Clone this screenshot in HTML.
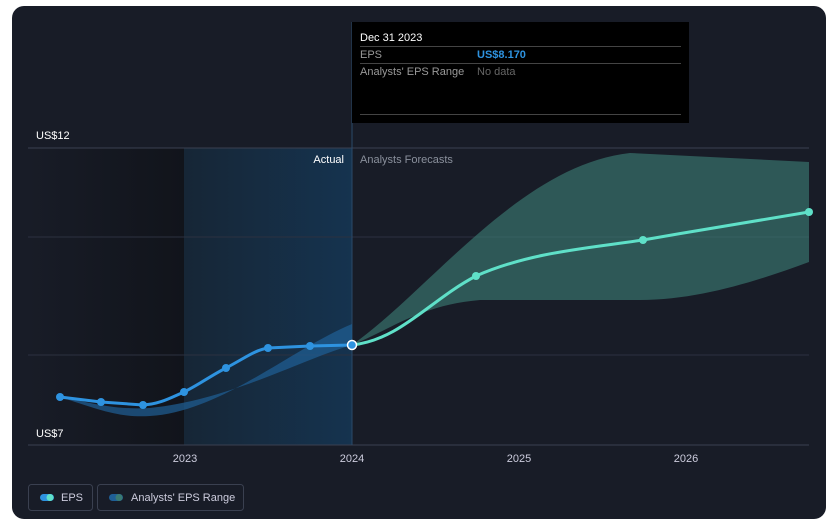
<!DOCTYPE html>
<html><head><style>
body{margin:0;background:#fff;}
svg text{font-family:"Liberation Sans",sans-serif;}
</style></head><body>
<svg width="834" height="525" xmlns="http://www.w3.org/2000/svg">
<defs>
<linearGradient id="dk" x1="0" x2="1"><stop offset="0" stop-color="#181c27"/><stop offset="1" stop-color="#11141b"/></linearGradient>
<linearGradient id="bl" x1="0" x2="1"><stop offset="0" stop-color="#162636"/><stop offset="1" stop-color="#15334f"/></linearGradient>
</defs>
<rect x="12" y="6" width="814" height="513" rx="12" fill="#181c27"/>
<rect x="28" y="148" width="156" height="297" fill="url(#dk)"/>
<rect x="184" y="148" width="168" height="297" fill="url(#bl)"/>
<line x1="28" y1="148" x2="809" y2="148" stroke="#3a4050"/>
<line x1="28" y1="237" x2="809" y2="237" stroke="#2c3140"/>
<line x1="28" y1="355" x2="809" y2="355" stroke="#2c3140"/>
<line x1="28" y1="445" x2="809" y2="445" stroke="#3a4050"/>
<line x1="352" y1="22" x2="352" y2="445" stroke="#2a4a6a"/>
<path d="M60,397 C100,410 120,418 150,416 C220,412 290,350 352,324 L352,345 C300,360 230,400 150,408 C110,410 90,402 60,397Z" fill="#1f5f96" opacity="0.7"/>
<path d="M352,345 C430,290 520,165 630,153 L809,162 L809,262 C760,280 700,300 640,300 L480,300 C420,305 390,330 352,345Z" fill="#3a7a72" opacity="0.65"/>
<path d="M60,397 L101,402 L143,405 C160,404 170,398 184,392 C200,384 212,375 226,368 C245,358 255,350 268,348 L310,346 L352,345" fill="none" stroke="#2e93e0" stroke-width="3"/>
<path d="M352,345 C400,340 430,300 476,276 C530,252 590,248 643,240 C700,230 760,220 809,212" fill="none" stroke="#5fe0c8" stroke-width="3"/>
<g fill="#2e93e0"><circle cx="60" cy="397" r="4"/><circle cx="101" cy="402" r="4"/><circle cx="143" cy="405" r="4"/><circle cx="184" cy="392" r="4"/><circle cx="226" cy="368" r="4"/><circle cx="268" cy="348" r="4"/><circle cx="310" cy="346" r="4"/></g>
<circle cx="352" cy="345" r="4.5" fill="#2e93e0" stroke="#fff" stroke-width="1.5"/>
<g fill="#5fe0c8"><circle cx="476" cy="276" r="4"/><circle cx="643" cy="240" r="4"/><circle cx="809" cy="212" r="4"/></g>
<text x="36" y="139" fill="#fff" font-size="11">US$12</text>
<text x="36" y="437" fill="#fff" font-size="11">US$7</text>
<text x="344" y="163" fill="#fff" font-size="11" text-anchor="end">Actual</text>
<text x="360" y="163" fill="#8a909c" font-size="11">Analysts Forecasts</text>
<g fill="#ccd" font-size="11" text-anchor="middle"><text x="185" y="462">2023</text><text x="352" y="462">2024</text><text x="519" y="462">2025</text><text x="686" y="462">2026</text></g>
<rect x="352" y="22" width="337" height="101" fill="#000"/>
<text x="360" y="41" fill="#fff" font-size="11">Dec 31 2023</text>
<line x1="360" y1="46.5" x2="681" y2="46.5" stroke="#444"/>
<text x="360" y="58" fill="#999" font-size="11">EPS</text>
<text x="477" y="58" fill="#2e93e0" font-size="11" font-weight="bold">US$8.170</text>
<line x1="360" y1="63.5" x2="681" y2="63.5" stroke="#444"/>
<text x="360" y="75" fill="#999" font-size="11">Analysts' EPS Range</text>
<text x="477" y="75" fill="#666" font-size="11">No data</text>
<line x1="360" y1="114.5" x2="681" y2="114.5" stroke="#444"/>
<rect x="28.5" y="484.5" width="64" height="26" rx="3" fill="none" stroke="#3a4050"/>
<rect x="40" y="494" width="14" height="7" rx="3.5" fill="#2e93e0"/><circle cx="50" cy="497.5" r="3.5" fill="#5fe0c8"/>
<text x="61" y="501" fill="#ccd" font-size="11">EPS</text>
<rect x="97.5" y="484.5" width="146" height="26" rx="3" fill="none" stroke="#3a4050"/>
<rect x="109" y="494" width="14" height="7" rx="3.5" fill="#1f5f96"/><circle cx="119" cy="497.5" r="3.5" fill="#3a7a72"/>
<text x="131" y="501" fill="#ccd" font-size="11">Analysts' EPS Range</text>
</svg>
</body></html>
